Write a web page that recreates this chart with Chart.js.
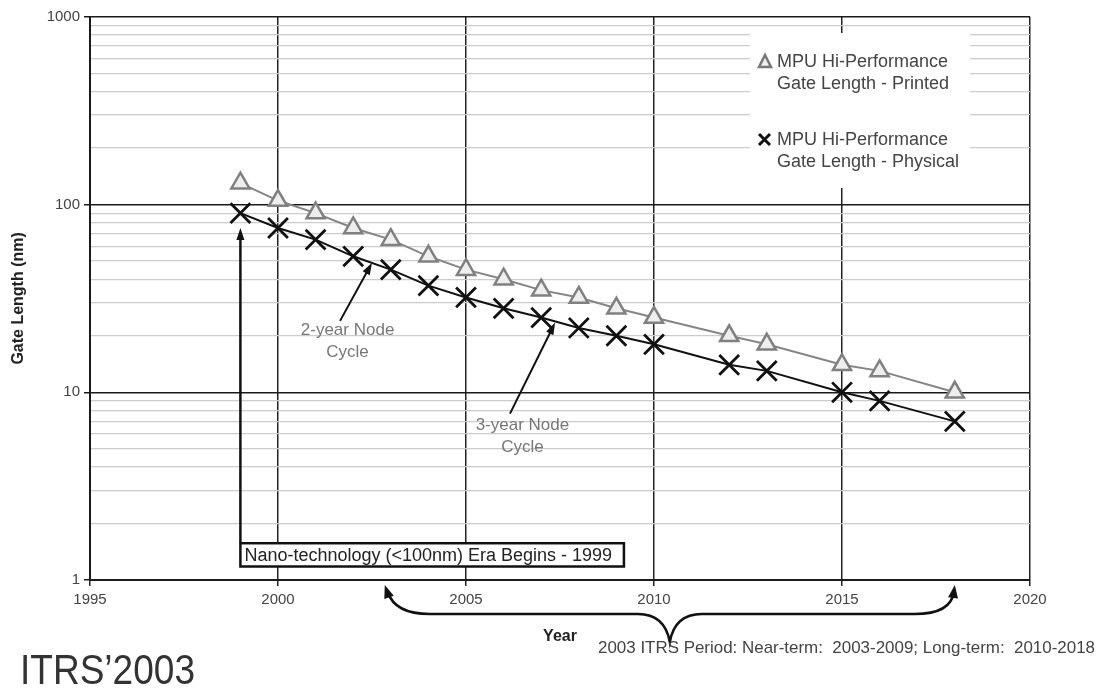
<!DOCTYPE html>
<html>
<head>
<meta charset="utf-8">
<script src="https://cdn.jsdelivr.net/npm/chart.js@4.4.1/dist/chart.umd.min.js"></script>
<style>
  body { margin: 0; background: #fff; }
  #wrap { width: 1101px; height: 690px; }
</style>
</head>
<body>
<div id="wrap"><canvas id="chart" width="1101" height="690"></canvas></div>
<script>
// Data
const years = [1999, 2000, 2001, 2002, 2003, 2004, 2005, 2006, 2007, 2008, 2009, 2010, 2012, 2013, 2015, 2016, 2018];
const printed = [130, 105, 90, 75, 65, 53, 45, 40, 35, 32, 28, 25, 20, 18, 14, 13, 10];
const physical = [90, 75, 65, 53, 45, 37, 32, 28, 25, 22, 20, 18, 14, 13, 10, 9, 7];
const xTicks = [1995, 2000, 2005, 2010, 2015, 2020];
const yTicks = [1, 10, 100, 1000];

const FONT = "'Liberation Sans', Arial, sans-serif";

// minor log grid: 1..9 for each decade
const yGrid = [];
[1, 10, 100].forEach(d => { for (let m = 1; m < 10; m++) yGrid.push(d * m); });
yGrid.push(1000);
const isMajor = v => yTicks.includes(v);

function arrowHead(ctx, x, y, ang, len, w) {
  ctx.beginPath();
  ctx.moveTo(x, y);
  ctx.lineTo(x - len * Math.cos(ang) + w * Math.sin(ang), y - len * Math.sin(ang) - w * Math.cos(ang));
  ctx.lineTo(x - len * Math.cos(ang) - w * Math.sin(ang), y - len * Math.sin(ang) + w * Math.cos(ang));
  ctx.closePath();
  ctx.fill();
}

function arrow(ctx, x1, y1, x2, y2, width) {
  const ang = Math.atan2(y2 - y1, x2 - x1);
  ctx.lineWidth = width;
  ctx.beginPath();
  ctx.moveTo(x1, y1);
  ctx.lineTo(x2 - 8 * Math.cos(ang), y2 - 8 * Math.sin(ang));
  ctx.stroke();
  arrowHead(ctx, x2, y2, ang, 12, 4);
}

// legend, notes, arrows and brace
const extras = {
  id: 'extras',
  afterDraw(chart) {
    const ctx = chart.ctx;
    const xs = chart.scales.x, ys = chart.scales.y;
    const px = v => xs.getPixelForValue(v);
    const py = v => ys.getPixelForValue(v);
    const bottom = chart.chartArea.bottom;
    ctx.save();

    // legend box
    ctx.fillStyle = '#fff';
    ctx.fillRect(750, 33, 220, 155);
    ctx.font = '18px ' + FONT;
    ctx.textBaseline = 'middle';
    ctx.textAlign = 'left';
    ctx.fillStyle = '#444';
    ctx.fillText('MPU Hi-Performance', 777, 62, 174);
    ctx.fillText('Gate Length - Printed', 777, 84, 177);
    ctx.fillText('MPU Hi-Performance', 777, 140, 174);
    ctx.fillText('Gate Length - Physical', 777, 162, 187);
    // legend markers
    ctx.strokeStyle = '#777';
    ctx.fillStyle = '#eee';
    ctx.lineWidth = 2.5;
    ctx.beginPath();
    ctx.moveTo(765, 55); ctx.lineTo(771, 67); ctx.lineTo(759, 67); ctx.closePath();
    ctx.fill(); ctx.stroke();
    ctx.strokeStyle = '#111';
    ctx.lineWidth = 3;
    ctx.beginPath();
    ctx.moveTo(759, 134); ctx.lineTo(770, 145);
    ctx.moveTo(770, 134); ctx.lineTo(759, 145);
    ctx.stroke();

    // nano-technology box and arrow
    ctx.strokeStyle = '#111';
    ctx.fillStyle = '#111';
    const bx1 = px(1999), bx2 = px(2009.2), by1 = py(1.57), by2 = py(1.18);
    arrow(ctx, bx1, by1, bx1, py(75), 2.5);
    ctx.fillStyle = '#fff';
    ctx.fillRect(bx1, by1, bx2 - bx1, by2 - by1);
    ctx.lineWidth = 2.5;
    ctx.strokeRect(bx1, by1, bx2 - bx1, by2 - by1);
    ctx.fillStyle = '#222';
    ctx.font = '18px ' + FONT;
    ctx.fillText('Nano-technology (<100nm) Era Begins - 1999', bx1 + 4, (by1 + by2) / 2 + 1, bx2 - bx1 - 8);

    // node cycle notes
    ctx.fillStyle = '#111';
    ctx.strokeStyle = '#111';
    arrow(ctx, px(2001.65), py(24), px(2002.5), py(49), 2);
    arrow(ctx, px(2006.17), py(7.7), px(2007.37), py(23.5), 2);
    ctx.fillStyle = '#777';
    ctx.font = '17px ' + FONT;
    ctx.textAlign = 'center';
    ctx.fillText('2-year Node', px(2001.85), py(21.4), 97);
    ctx.fillText('Cycle', px(2001.85), py(16.3));
    ctx.fillText('3-year Node', px(2006.5), py(6.7), 100);
    ctx.fillText('Cycle', px(2006.5), py(5.1));

    // brace for the 2003-2018 period
    const xL = px(2003) - 6, xR = px(2018), xM = (xL + xR) / 2;
    const yA = bottom + 5, yH = bottom + 34, yT = bottom + 62;
    ctx.strokeStyle = '#111';
    ctx.fillStyle = '#111';
    ctx.lineWidth = 2.5;
    ctx.beginPath();
    ctx.moveTo(xL + 3, yA + 7);
    ctx.quadraticCurveTo(xL + 10, yH, xL + 45, yH);
    ctx.lineTo(xM - 32, yH);
    ctx.quadraticCurveTo(xM - 5, yH, xM, yT);
    ctx.quadraticCurveTo(xM + 5, yH, xM + 32, yH);
    ctx.lineTo(xR - 40, yH);
    ctx.quadraticCurveTo(xR - 4, yH, xR - 1, yA + 7);
    ctx.stroke();
    arrowHead(ctx, xL, yA, Math.atan2(yA - yH, xL - (xL + 10)), 13, 5);
    arrowHead(ctx, xR, yA, Math.atan2(yA - yH, xR - (xR - 4)), 13, 5);

    // footnote
    ctx.textAlign = 'left';
    ctx.fillStyle = '#444';
    ctx.font = '17px ' + FONT;
    ctx.fillText('2003 ITRS Period: Near-term:  2003-2009; Long-term:  2010-2018', 598, 648, 497);

    // ITRS'2003 label
    ctx.fillStyle = '#333';
    ctx.font = '42px ' + FONT;
    ctx.textBaseline = 'alphabetic';
    ctx.fillText('ITRS\u20192003', 20, 684, 175);
    ctx.restore();
  }
};

const ctx = document.getElementById('chart').getContext('2d');

const myChart = new Chart(ctx, {
  type: 'line',
  data: {
    datasets: [{
      label: 'MPU Hi-Performance Gate Length - Printed',
      data: years.map((a, i) => ({ x: a, y: printed[i] })),
      borderColor: '#858585',
      borderWidth: 2,
      pointStyle: 'triangle',
      pointRadius: 10.5,
      pointBorderWidth: 2.5,
      pointBorderColor: '#808080',
      pointBackgroundColor: '#eeeeee'
    }, {
      label: 'MPU Hi-Performance Gate Length - Physical',
      data: years.map((a, i) => ({ x: a, y: physical[i] })),
      borderColor: '#111',
      borderWidth: 2,
      pointStyle: 'crossRot',
      pointRadius: 14,
      pointBorderWidth: 2.8,
      pointBorderColor: '#111'
    }]
  },
  options: {
    responsive: false,
    animation: false,
    layout: { padding: { left: 0, top: 16, right: 71, bottom: 0 } },
    plugins: {
      legend: { display: false },
      tooltip: { enabled: false }
    },
    scales: {
      x: {
        type: 'linear',
        min: 1995,
        max: 2020,
        afterBuildTicks: s => { s.ticks = xTicks.map(v => ({ value: v })); },
        afterFit: s => { s.height = 110; },
        ticks: {
          callback: v => String(v),
          font: { family: FONT, size: 15 },
          color: '#444',
          padding: 5
        },
        grid: { color: '#222', lineWidth: 1.5, tickLength: 6 },
        border: { color: '#1a1a1a', width: 2 },
        title: {
          display: true,
          text: 'Year',
          font: { family: FONT, size: 16, weight: 'bold' },
          color: '#222',
          padding: { bottom: 44 }
        }
      },
      y: {
        type: 'logarithmic',
        min: 1,
        max: 1000,
        afterBuildTicks: s => { s.ticks = yGrid.map(v => ({ value: v, major: isMajor(v) })); },
        afterFit: s => { s.width = 90; },
        ticks: {
          autoSkip: false,
          callback: v => isMajor(v) ? String(v) : '',
          font: { family: FONT, size: 15 },
          color: '#444',
          padding: 4
        },
        grid: {
          color: c => (c.tick && isMajor(c.tick.value)) ? '#1a1a1a' : '#cccccc',
          lineWidth: c => (c.tick && isMajor(c.tick.value)) ? 1.5 : 1.2,
          tickColor: c => (c.tick && isMajor(c.tick.value)) ? '#1a1a1a' : 'rgba(0,0,0,0)',
          tickLength: 6
        },
        border: { color: '#1a1a1a', width: 2 },
        title: {
          display: true,
          text: 'Gate Length (nm)',
          font: { family: FONT, size: 16, weight: 'bold' },
          color: '#222',
          padding: { top: 9 }
        }
      }
    }
  },
  plugins: [extras]
});
</script>
</body>
</html>
